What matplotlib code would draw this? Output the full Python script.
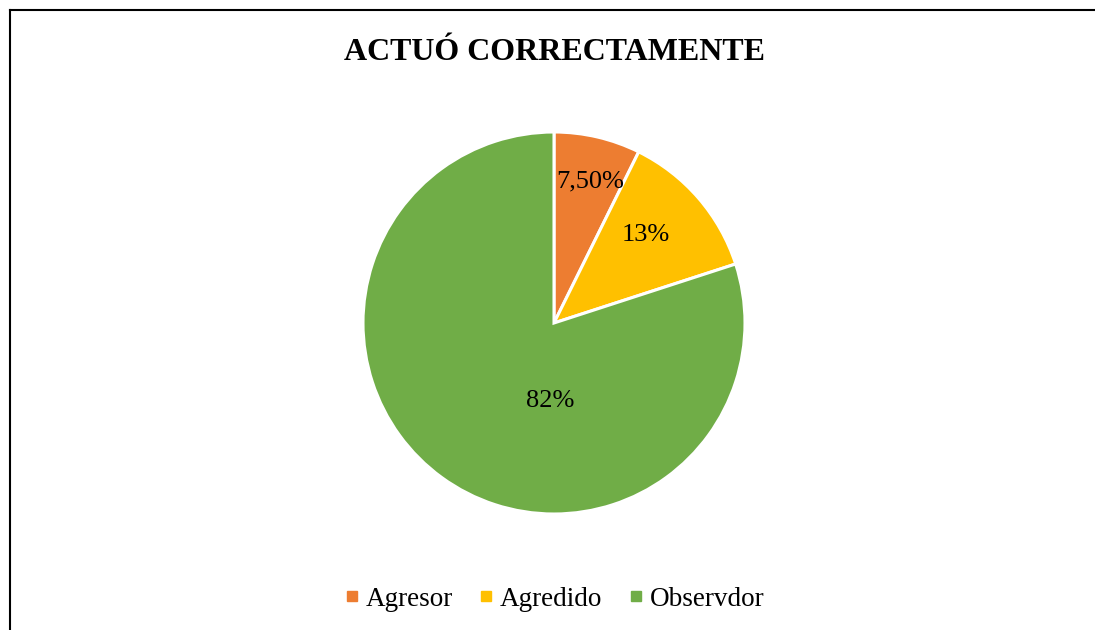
#!/usr/bin/env python3
# -*- coding: utf-8 -*-
import matplotlib
matplotlib.use('Agg')
import matplotlib.pyplot as plt
from matplotlib.lines import Line2D

# Chart data
categories = ['Agresor', 'Agredido', 'Observdor']
values = [7.5, 13, 82]
value_labels = ['7,50%', '13%', '82%']
colors = ['#ED7D31', '#FFC000', '#70AD47']

# Label placement (fraction of radius, Excel "best fit" style)
label_pos = [(0.19, 0.74), (0.48, 0.46), (-0.02, -0.41)]

plt.rcParams['font.family'] = ['Liberation Serif', 'DejaVu Serif']

fig = plt.figure(figsize=(10.95, 6.3), dpi=100)

# Pie axes: centre (554, 323) px, radius 191 px
W, H = 1095, 630
cx, cy, r = 554, 323, 191
ax = fig.add_axes([(cx - r) / W, (H - cy - r) / H, 2 * r / W, 2 * r / H])
ax.pie(values, colors=colors, startangle=90, counterclock=False,
       radius=1, wedgeprops=dict(edgecolor='white', linewidth=2.2))
ax.set_xlim(-1, 1)
ax.set_ylim(-1, 1)
ax.axis('off')

for (x, y), txt in zip(label_pos, value_labels):
    ax.text(x, y, txt, ha='center', va='center', fontsize=19, color='black')

# Title
fig.text(555 / W, 1 - 52 / H, 'ACTUÓ CORRECTAMENTE', ha='center',
         va='center', fontsize=23, fontweight='bold')

# Legend
handles = [Line2D([], [], marker='s', linestyle='none', markersize=7,
                  markerfacecolor=c, markeredgecolor=c) for c in colors]
fig.legend(handles, categories, loc='center', ncol=3,
           bbox_to_anchor=(554 / W, 1 - 599 / H), frameon=False,
           fontsize=19.5, handlelength=0.6, handletextpad=0.2,
           columnspacing=0.95)

# Chart border (top and left visible)
fig.add_artist(Line2D([10 / W, 1], [1 - 10 / H, 1 - 10 / H],
                      color='black', linewidth=1.5))
fig.add_artist(Line2D([10 / W, 10 / W], [0, 1 - 10 / H],
                      color='black', linewidth=1.5))

fig.savefig('out.png', dpi=100)
